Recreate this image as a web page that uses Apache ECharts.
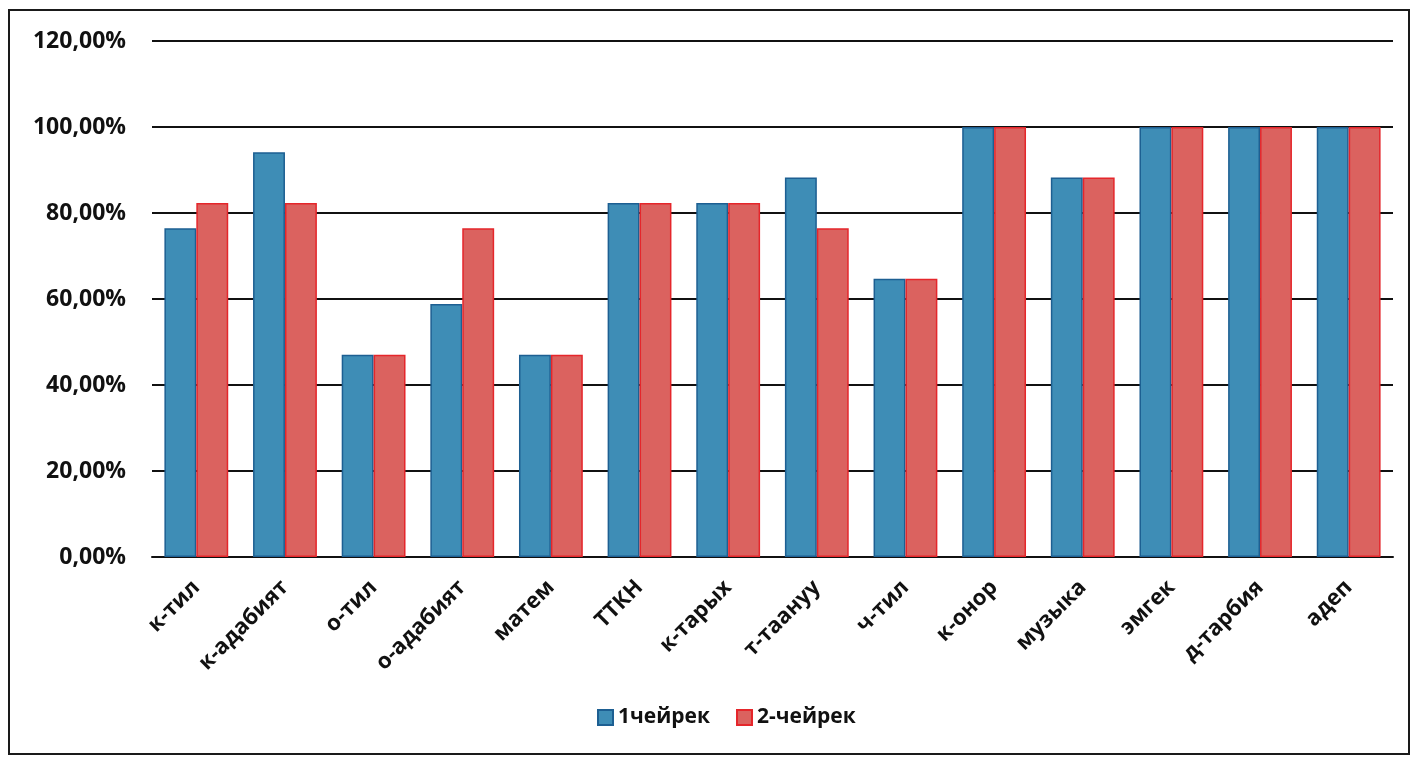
<!DOCTYPE html>
<html><head><meta charset="utf-8">
<script src="https://cdn.jsdelivr.net/npm/echarts@6/dist/echarts.min.js"></script>
<style>
html,body{margin:0;padding:0;background:#fff;}
#frame{position:absolute;left:8px;top:9px;width:1402px;height:746px;border:2px solid #1a1a1a;box-sizing:border-box;}
#c{position:absolute;left:0;top:0;width:1413px;height:760px;}
</style></head>
<body>
<div id="frame"></div>
<div id="c"></div>
<script>
const categories = ['к-тил','к-адабият','о-тил','о-адабият','матем','ТТКН','к-тарых','т-таануу','ч-тил','к-онор','музыка','эмгек','д-тарбия','адеп'];
const seriesNames = ['1чейрек','2-чейрек'];
const quarter1 = [76.47, 94.12, 47.06, 58.82, 47.06, 82.35, 82.35, 88.24, 64.71, 100, 88.24, 100, 100, 100];
const quarter2 = [82.35, 82.35, 47.06, 76.47, 47.06, 82.35, 82.35, 76.47, 64.71, 100, 88.24, 100, 100, 100];
const yTicks = [0, 20, 40, 60, 80, 100, 120];

const font = '"Open Sans", "DejaVu Sans", sans-serif';
const chart = echarts.init(document.getElementById('c'));
chart.setOption({
  animation: false,
  backgroundColor: 'transparent',
  grid: {left: 152, right: 20, top: 41, bottom: 203},
  legend: {
    bottom: 27, left: 592,
    itemWidth: 15, itemHeight: 15, itemGap: 26,
    icon: 'rect',
    textStyle: {fontFamily: font, fontWeight: 700, fontSize: 21, color: '#111'},
    data: seriesNames
  },
  xAxis: {
    type: 'category', data: categories,
    axisLine: {lineStyle: {color: '#111', width: 2}},
    axisTick: {show: false},
    axisLabel: {rotate: 45, interval: 0, margin: 27, fontFamily: font, fontWeight: 700, fontSize: 22, color: '#111'}
  },
  yAxis: {
    type: 'value', min: yTicks[0], max: yTicks[yTicks.length-1], interval: 20,
    axisLine: {show: false}, axisTick: {show: false},
    splitLine: {lineStyle: {color: '#111', width: 2}},
    axisLabel: {margin: 26, fontFamily: font, fontWeight: 700, fontSize: 23, color: '#111',
      formatter: v => v.toFixed(2).replace('.', ',') + '%'}
  },
  series: [
    {name: seriesNames[0], type: 'bar', data: quarter1, barGap: '0%', barCategoryGap: '28%',
     itemStyle: {color: '#3e8db6', borderColor: '#1d5f92', borderWidth: 1.5}},
    {name: seriesNames[1], type: 'bar', data: quarter2,
     itemStyle: {color: '#db625f', borderColor: '#e5262b', borderWidth: 1.5}}
  ]
});
</script>
</body></html>
